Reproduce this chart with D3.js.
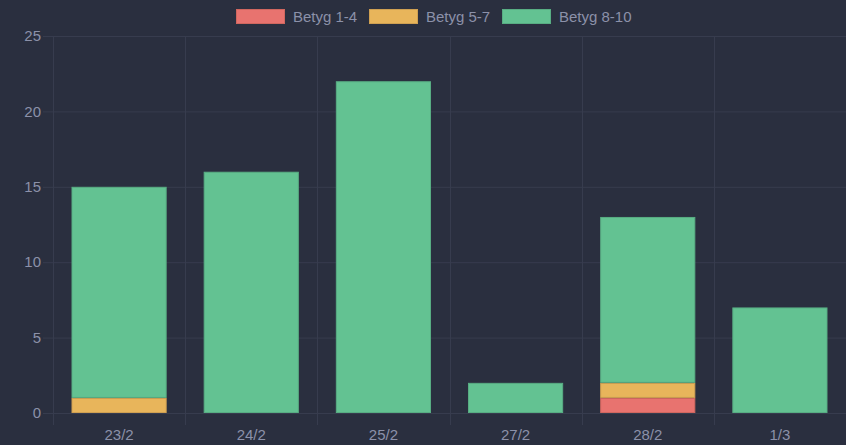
<!DOCTYPE html>
<html><head><meta charset="utf-8">
<script src="https://cdn.jsdelivr.net/npm/d3@7"></script>
<style>
html,body{margin:0;padding:0;background:#2a2f3f;}
svg{display:block;font-family:"Liberation Sans",Arial,Helvetica,sans-serif;}
</style></head><body>
<svg id="c" width="846" height="445"></svg>
<script>
const categories = ["23/2","24/2","25/2","27/2","28/2","1/3"];
const seriesNames = ["Betyg 1-4","Betyg 5-7","Betyg 8-10"];
const low = [0,0,0,0,1,0];
const mid = [1,0,0,0,1,0];
const high = [14,16,22,2,11,7];
const yTicks = [0,5,10,15,20,25];
const colors = ["#e8736f","#e8b55b","#63c292"];
const borders = ["#d0675f","#cfa052","#58ad83"];

const svg = d3.select("#c");
const W=846,H=445;
const m={l:53,r:0,t:36,b:32};
const x = d3.scaleBand().domain(categories).range([m.l,W-m.r]).paddingInner(0).paddingOuter(0);
const y = d3.scaleLinear().domain([0,25]).range([413,36]);
const grid="#373c4e", txt="#8c91a9";

svg.append("rect").attr("width",W).attr("height",H).attr("fill","#2a2f3f");

svg.append("g").selectAll("line").data(yTicks).join("line")
  .attr("x1",m.l-10).attr("x2",W).attr("y1",d=>y(d)+0.5).attr("y2",d=>y(d)+0.5)
  .attr("stroke",grid).attr("stroke-width",1);
const vx = categories.map(c=>x(c)).concat([W]);
svg.append("g").selectAll("line").data(vx).join("line")
  .attr("x1",d=>Math.round(d)+0.5).attr("x2",d=>Math.round(d)+0.5).attr("y1",36).attr("y2",425)
  .attr("stroke",grid).attr("stroke-width",1);
svg.append("g").selectAll("text").data(yTicks).join("text")
  .attr("x",41).attr("y",d=>y(d)).attr("dy","0.35em").attr("text-anchor","end")
  .attr("fill",txt).attr("font-size",15).text(d=>d);
svg.append("g").selectAll("text").data(categories).join("text")
  .attr("x",d=>x(d)+x.bandwidth()/2).attr("y",440).attr("text-anchor","middle")
  .attr("fill",txt).attr("font-size",15).text(d=>d);

const rows = categories.map((c,i)=>({cat:c, s0:low[i], s1:mid[i], s2:high[i]}));
const stack = d3.stack().keys(["s0","s1","s2"])(rows);
const bw = x.bandwidth()*0.72;
stack.forEach((layer,k)=>{
  svg.append("g").selectAll("rect").data(layer.filter(d=>d[1]>d[0])).join("rect")
    .attr("x",d=>x(d.data.cat)+(x.bandwidth()-bw)/2+0.5)
    .attr("width",bw-1)
    .attr("y",d=>y(d[1])+0.5)
    .attr("height",d=>y(d[0])-y(d[1])-1)
    .attr("fill",colors[k]).attr("stroke",borders[k]).attr("stroke-width",1);
});

const legX=[236,369,502];
const lg = svg.append("g");
seriesNames.forEach((n,i)=>{
  lg.append("rect").attr("x",legX[i]+0.5).attr("y",9.5).attr("width",48).attr("height",14)
    .attr("fill",colors[i]).attr("stroke",borders[i]).attr("stroke-width",1);
  lg.append("text").attr("x",legX[i]+57).attr("y",16.5).attr("dy","0.35em")
    .attr("fill",txt).attr("font-size",15).text(n);
});
</script>
</body></html>
